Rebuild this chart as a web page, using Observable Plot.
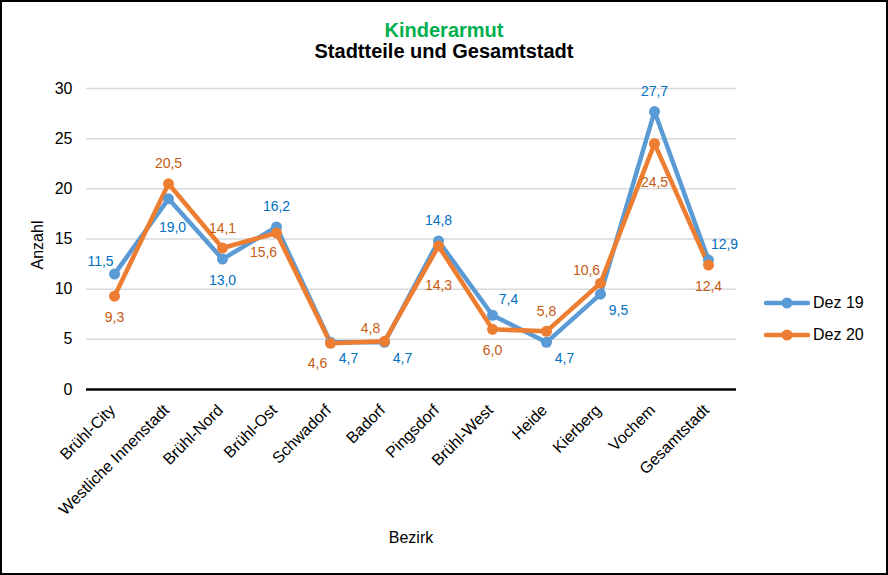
<!DOCTYPE html>
<html><head><meta charset="utf-8">
<script src="https://cdn.jsdelivr.net/npm/d3@7"></script>
<script src="https://cdn.jsdelivr.net/npm/@observablehq/plot@0.6"></script>
<style>
body{margin:0;background:#fff;font-family:"Liberation Sans",Arial,sans-serif;}
#wrap{position:relative;width:888px;height:575px;overflow:hidden;background:#fff}
#border{position:absolute;left:0;top:0;width:884px;height:571px;border:2px solid #000;pointer-events:none;z-index:5}
.t{position:absolute;left:0;width:888px;text-align:center;font-weight:bold;font-size:20px;line-height:22px}
#t1{top:19px;color:#00B050}
#t2{top:40px;color:#000}
#chart{position:absolute;left:0;top:0}
#ylab{position:absolute;left:38px;top:245px;transform:translate(-50%,-50%) rotate(-90deg);font-size:16px;white-space:nowrap}
#xlab{position:absolute;left:411px;top:538px;transform:translate(-50%,-50%);font-size:16px}
#legend{position:absolute;left:764px;top:287px;font-size:16px}
.li{display:flex;align-items:center;height:32px}
.li svg{margin-right:3px}
</style></head><body>
<div id="wrap">
 <div id="border"></div>
 <div class="t" id="t1">Kinderarmut</div>
 <div class="t" id="t2">Stadtteile und Gesamtstadt</div>
 <div id="chart"></div>
 <div id="ylab">Anzahl</div>
 <div id="xlab">Bezirk</div>
 <div id="legend"></div>
</div>
<script>
const bezirke = ["Brühl-City","Westliche Innenstadt","Brühl-Nord","Brühl-Ost","Schwadorf","Badorf","Pingsdorf","Brühl-West","Heide","Kierberg","Vochem","Gesamtstadt"];
const dez19 = [11.5,19.0,13.0,16.2,4.7,4.7,14.8,7.4,4.7,9.5,27.7,12.9];
const dez20 = [9.3,20.5,14.1,15.6,4.6,4.8,14.3,6.0,5.8,10.6,24.5,12.4];
const seriesNames = ["Dez 19","Dez 20"];
const labelPos19 = ["NW","S2","S","N","SE","SE","N","NE","SE","SE","N","NE"];
const labelPos20 = ["S","N","N","SW","SW","NW","SS","S","N","NW","SS","S"];
const yTicks = [0,5,10,15,20,25,30];

const lineColors = ["#5B9BD5","#ED7D31"];
const labelColors = ["#0070C0","#C55A11"];
const offsets = {N:[0,-20],S:[0,21],S2:[4,29],SS:[0,39],NW:[-14,-13],NE:[16,-16],SE:[18,16],SW:[-13,20]};

const fmt = v => v.toFixed(1).replace(".", ",");
const series = [dez19, dez20].map((vals, si) => vals.map((v, i) => ({
  bezirk: bezirke[i], value: v, series: seriesNames[si],
  pos: (si === 0 ? labelPos19 : labelPos20)[i]
})));

const labelMarks = [];
series.forEach((data, si) => {
  for (const [k, [dx, dy]] of Object.entries(offsets)) {
    const sub = data.filter(d => d.pos === k);
    if (sub.length) labelMarks.push(Plot.text(sub, {
      x: "bezirk", y: "value", text: d => fmt(d.value), dx, dy,
      fill: labelColors[si], fontSize: 14, lineAnchor: "middle"
    }));
  }
});

const chart = Plot.plot({
  width: 888, height: 575,
  marginLeft: 86, marginRight: 152, marginTop: 88, marginBottom: 186,
  style: {fontFamily: "'Liberation Sans', Arial, sans-serif", fontSize: "16px", color: "#000", background: "transparent"},
  x: {type: "point", domain: bezirke, padding: 0.5, label: null},
  y: {domain: [0, 30], label: null},
  color: {domain: seriesNames, range: lineColors},
  marks: [
    Plot.gridY(yTicks.filter(t => t > 0), {stroke: "#d9d9d9", strokeOpacity: 1, strokeWidth: 1.5}),
    Plot.axisY(yTicks, {tickSize: 0, tickPadding: 14, fontSize: 16, label: null}),
    Plot.axisX({tickSize: 0, tickPadding: 18, dx: -2, tickRotate: -45, fontSize: 16, label: null}),
    Plot.ruleY([0], {stroke: "#000", strokeWidth: 2.5}),
    ...series.map(data => Plot.line(data, {x: "bezirk", y: "value", stroke: "series", strokeWidth: 4.5, strokeLinejoin: "round", strokeLinecap: "round"})),
    ...series.map(data => Plot.dot(data, {x: "bezirk", y: "value", fill: "series", r: 5.5, stroke: "none"})),
    ...labelMarks
  ]
});
document.getElementById("chart").appendChild(chart);

const leg = document.getElementById("legend");
seriesNames.forEach((n, i) => {
  const row = document.createElement("div");
  row.className = "li";
  row.innerHTML = `<svg width="46" height="14"><line x1="2" y1="7" x2="44" y2="7" stroke="${lineColors[i]}" stroke-width="4.5" stroke-linecap="round"/><circle cx="23" cy="7" r="5.5" fill="${lineColors[i]}"/></svg><span>${n}</span>`;
  leg.appendChild(row);
});
</script>
</body></html>
